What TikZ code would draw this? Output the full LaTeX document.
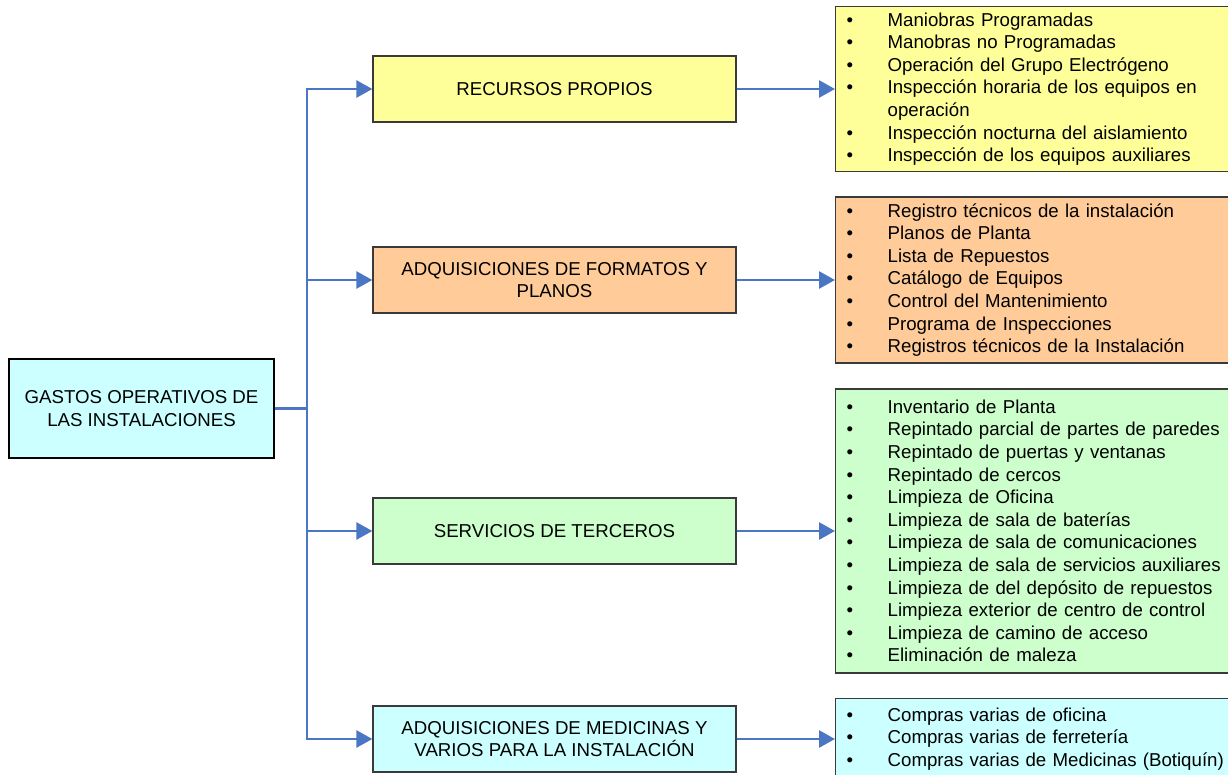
\documentclass[tikz,border=0pt]{standalone}
\usepackage{fontspec}
\setmainfont{Liberation Sans}
\usetikzlibrary{arrows.meta}
\definecolor{cyanfill}{HTML}{CCFFFF}
\definecolor{yellowfill}{HTML}{FFFF99}
\definecolor{orangefill}{HTML}{FFCC99}
\definecolor{greenfill}{HTML}{CCFFCC}
\definecolor{connblue}{HTML}{4A76C4}
\definecolor{edgegray}{HTML}{3A3A3A}
\newcommand{\itm}[1]{\makebox[52pt][l]{\hspace{11pt}•}#1}
\newcommand{\cont}[1]{\hspace*{52pt}#1}
\begin{document}
\begin{tikzpicture}[x=1pt,y=-1pt,
  every node/.style={font=\fontsize{18.67}{22.6}\selectfont},
  rootbox/.style={draw=black,line width=1.2pt,fill=cyanfill,minimum width=265pt,minimum height=99pt,align=center,inner sep=0pt},
  mainbox/.style={draw=edgegray,line width=1.3pt,minimum width=363pt,minimum height=66pt,align=center,inner sep=0pt},
  listbox/.style={draw=edgegray,line width=1.3pt,anchor=west,text width=420pt,inner xsep=0pt,inner ysep=0pt,align=left},
  conn/.style={draw=connblue,line width=2.75pt},
  arr/.style={conn,-{Triangle[length=16pt,width=17pt]}}
]
\useasboundingbox (0,0) rectangle (1228,774);

\node[rootbox] (root) at (141.5,408.5) {GASTOS OPERATIVOS DE\\LAS INSTALACIONES};

\node[mainbox,fill=yellowfill] (b1) at (554.5,89) {RECURSOS PROPIOS};
\node[mainbox,fill=orangefill] (b2) at (554.5,280) {ADQUISICIONES DE FORMATOS Y\\PLANOS};
\node[mainbox,fill=greenfill] (b3) at (554.5,531) {SERVICIOS DE TERCEROS};
\node[mainbox,fill=cyanfill] (b4) at (554.5,739) {ADQUISICIONES DE MEDICINAS Y\\VARIOS PARA LA INSTALACIÓN};

\node[listbox,fill=yellowfill,minimum height=165pt] (l1) at (835,89) {%
\itm{Maniobras Programadas}\\
\itm{Manobras no Programadas}\\
\itm{Operación del Grupo Electrógeno}\\
\itm{Inspección horaria de los equipos en}\\
\cont{operación}\\
\itm{Inspección nocturna del aislamiento}\\
\itm{Inspección de los equipos auxiliares}};

\node[listbox,fill=orangefill,minimum height=166pt] (l2) at (835,280) {%
\itm{Registro técnicos de la instalación}\\
\itm{Planos de Planta}\\
\itm{Lista de Repuestos}\\
\itm{Catálogo de Equipos}\\
\itm{Control del Mantenimiento}\\
\itm{Programa de Inspecciones}\\
\itm{Registros técnicos de la Instalación}};

\node[listbox,fill=greenfill,minimum height=284pt] (l3) at (835,531) {%
\itm{Inventario de Planta}\\
\itm{Repintado parcial de partes de paredes}\\
\itm{Repintado de puertas y ventanas}\\
\itm{Repintado de cercos}\\
\itm{Limpieza de Oficina}\\
\itm{Limpieza de sala de baterías}\\
\itm{Limpieza de sala de comunicaciones}\\
\itm{Limpieza de sala de servicios auxiliares}\\
\itm{Limpieza de del depósito de repuestos}\\
\itm{Limpieza exterior de centro de control}\\
\itm{Limpieza de camino de acceso}\\
\itm{Eliminación de maleza}};

\node[listbox,fill=cyanfill,minimum height=81pt] (l4) at (835,739) {%
\itm{Compras varias de oficina}\\
\itm{Compras varias de ferretería}\\
\itm{Compras varias de Medicinas (Botiquín)}};

\coordinate (trunk) at (307,408.5);
\draw[conn] (root.east) -- (trunk);
\draw[arr] (trunk) |- (b1.west);
\draw[arr] (trunk) |- (b2.west);
\draw[arr] (trunk) |- (b3.west);
\draw[arr] (trunk) |- (b4.west);

\draw[arr] (b1.east) -- (l1.west);
\draw[arr] (b2.east) -- (l2.west);
\draw[arr] (b3.east) -- (l3.west);
\draw[arr] (b4.east) -- (l4.west);
\end{tikzpicture}
\end{document}
